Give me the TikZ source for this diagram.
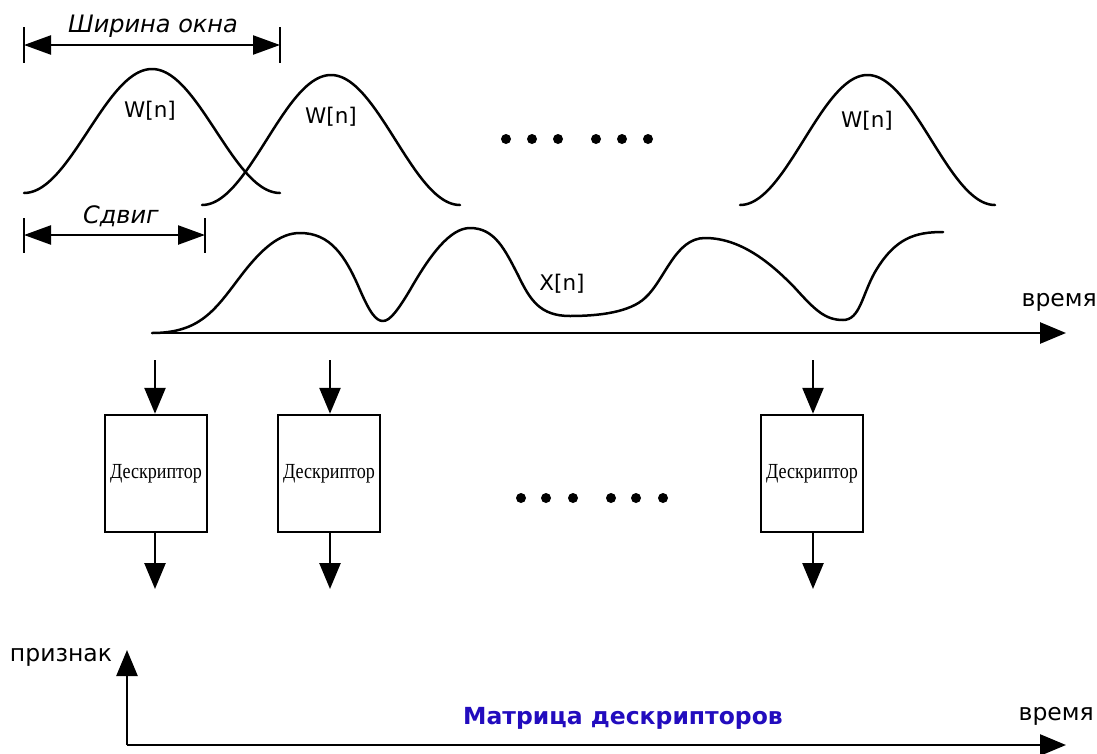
\documentclass[tikz,border=0pt]{standalone}
\usepackage{fontspec}
\setmainfont{DejaVu Sans}
\newfontfamily\descfont{Liberation Serif}
\usetikzlibrary{arrows.meta}
\definecolor{matblue}{RGB}{34,12,190}
\tikzset{
  ln/.style={line width=2.6pt},
  curve/.style={line width=2.5pt, line join=round, line cap=round},
  bigtip/.style={-{Triangle[length=26pt,width=21pt]}},
  dimarrow/.style={line width=2.4pt,{Triangle[length=27pt,width=19pt]}-{Triangle[length=27pt,width=19pt]}},
  tick/.style={line width=1.5pt},
  lbl/.style={font=\fontsize{23.5}{28}\selectfont, inner sep=0pt},
  wlbl/.style={font=\fontsize{21.5}{26}\selectfont, inner sep=0pt},
  dimlbl/.style={font=\fontsize{24}{28}\selectfont\itshape, inner sep=0pt},
  descbox/.style={draw, line width=2.5pt, minimum width=102pt, minimum height=117pt, inner sep=0pt},
  dot/.style={circle, fill=black, inner sep=0pt, minimum size=10pt},
}
\newcommand{\desctext}{\scalebox{0.84}[1]{\descfont\fontsize{21.5}{24}\selectfont Дескриптор}}
\begin{document}
\begin{tikzpicture}[x=1pt,y=-1pt]
\useasboundingbox (0,0) rectangle (1097,753);

% width dimension
\coordinate (wl) at (24,45);
\coordinate (wr) at (280,45);
\draw[tick] (24,27) -- (24,63);
\draw[tick] (280,27) -- (280,63);
\draw[dimarrow] (wl) -- (wr);
\node[dimlbl] (wlab) at (153,26) {Ширина окна};

% shift dimension
\coordinate (sl) at (24,235);
\coordinate (sr) at (205,235);
\draw[tick] (24,218) -- (24,253);
\draw[tick] (205,218) -- (205,253);
\draw[dimarrow] (sl) -- (sr);
\node[dimlbl] (slab) at (121,216) {Сдвиг};

% windows
\draw[curve] plot[domain=24:280, samples=120] (\x, {193-62*(1+cos((\x-152)/128*180))});
\draw[curve] plot[domain=202:460, samples=120] (\x, {205-65*(1+cos((\x-331)/129*180))});
\draw[curve] plot[domain=740:995, samples=120] (\x, {205-65*(1+cos((\x-867.5)/127.5*180))});
\node[wlbl] (w1) at (150,111) {W[n]};
\node[wlbl] (w2) at (331,117) {W[n]};
\node[wlbl] (w3) at (867,121) {W[n]};

% dots row 1
\foreach \px/\nm in {506/a,532/b,558/c,596/d,622/e,648/f}
  \node[dot] (d1\nm) at (\px,139) {};

% signal
\draw[curve] (152,333) .. controls (200,333) and (215,310) .. (240,277)
  .. controls (262,248) and (280,233) .. (300,233)
  .. controls (330,233) and (345,255) .. (360,290)
  .. controls (370,313) and (376,321) .. (383,321)
  .. controls (390,321) and (398,310) .. (410,290)
  .. controls (430,255) and (450,228) .. (470,228)
  .. controls (495,228) and (505,250) .. (518,275)
  .. controls (530,300) and (540,316) .. (570,316)
  .. controls (600,316) and (630,312) .. (645,298)
  .. controls (665,280) and (675,238) .. (705,238)
  .. controls (740,238) and (770,262) .. (795,288)
  .. controls (815,310) and (825,320) .. (843,320)
  .. controls (860,320) and (862,295) .. (875,272)
  .. controls (895,238) and (915,232) .. (943,232);
\node[wlbl] (xlab) at (562,284) {X[n]};

% time axis
\coordinate (t0) at (152,333);
\coordinate (t1) at (1066,333);
\draw[ln, bigtip] (t0) -- (t1);
\node[lbl, anchor=east] (tlab) at (1097,302) {время};

% descriptor boxes
\node[descbox] (b1) at (156,473.5) {\desctext};
\node[descbox] (b2) at (329,473.5) {\desctext};
\node[descbox] (b3) at (812,473.5) {\desctext};

\foreach \b/\px in {b1/155,b2/330,b3/813} {
  \coordinate (\b in) at (\px,360);
  \coordinate (\b out) at (\px,589);
  \draw[ln, bigtip] (\b in) -- (\b.north -| \b in);
  \draw[ln, bigtip] (\b.south -| \b out) -- (\b out);
}

% dots row 2
\foreach \px/\nm in {521/a,546/b,573/c,611/d,636/e,663/f}
  \node[dot] (d2\nm) at (\px,498) {};

% feature matrix axes
\coordinate (o) at (127,745);
\coordinate (fy) at (127,650);
\coordinate (fx) at (1066,745);
\draw[ln, bigtip] (o) -- (fy);
\draw[ln, bigtip] (o) -- (fx);
\node[lbl] (flab) at (61,657) {признак};
\node[lbl, anchor=east] (t2lab) at (1094,716) {время};
\node[lbl, font=\fontsize{23.5}{28}\selectfont\bfseries, text=matblue] (mlab) at (623,718) {Матрица дескрипторов};
\end{tikzpicture}
\end{document}
